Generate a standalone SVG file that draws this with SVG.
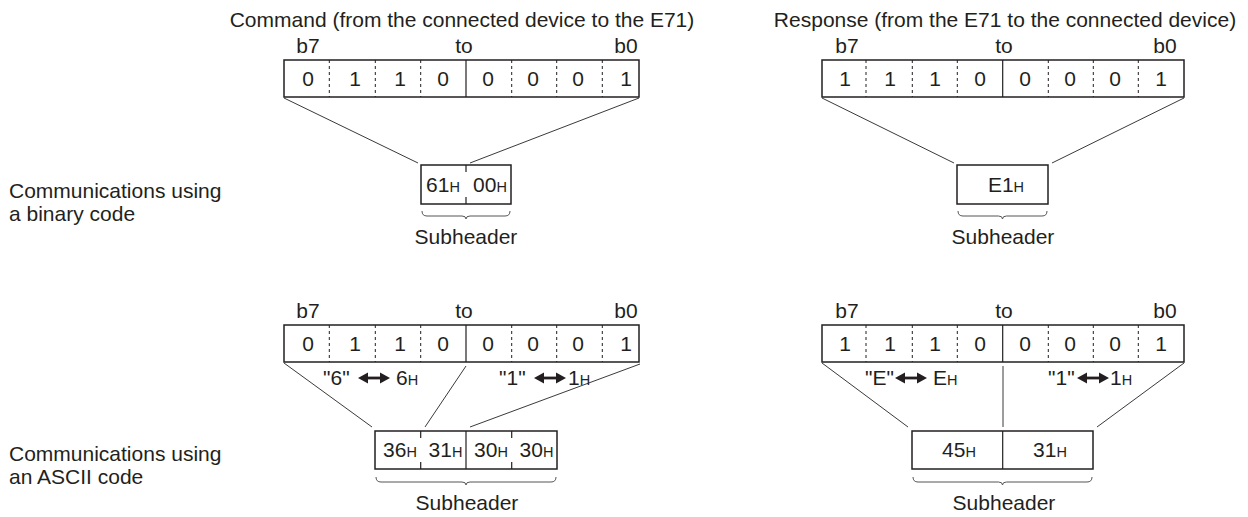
<svg xmlns="http://www.w3.org/2000/svg" width="1248" height="517" viewBox="0 0 1248 517">
<style>
text{font-family:"Liberation Sans",Arial,sans-serif;font-size:21px;fill:#231f20}
.m{text-anchor:middle}
.h{font-size:14.5px}
.box{fill:#fff;stroke:#231f20;stroke-width:1.5}
.dash{stroke:#231f20;stroke-width:1;stroke-dasharray:3,3}
.solid{stroke:#231f20;stroke-width:1.2}
.con{stroke:#3a3a3a;stroke-width:1;fill:none}
.br{stroke:#555;stroke-width:1;fill:none}
</style>
<defs>
<g id="dbl"><path d="M0,0 L10,-5.5 L10,5.5 Z M32,0 L22,-5.5 L22,5.5 Z" fill="#231f20"/><path d="M9,0 H23" stroke="#231f20" stroke-width="2.8"/></g>
</defs>

<g id="titles">
<text class="m" x="462" y="27">Command (from the connected device to the E71)</text>
<text class="m" x="1005" y="27">Response (from the E71 to the connected device)</text>
<text x="9" y="197.5">Communications using</text>
<text x="9" y="221">a binary code</text>
<text x="9" y="460.5">Communications using</text>
<text x="9" y="484">an ASCII code</text>
</g>

<g id="connectors">
<line class="con" x1="284" y1="98" x2="418" y2="163"/>
<line class="con" x1="639" y1="98" x2="470" y2="163"/>
<line class="con" x1="822" y1="98" x2="954" y2="163"/>
<line class="con" x1="1184" y1="98" x2="1052" y2="163"/>
<line class="con" x1="284" y1="363" x2="372" y2="427"/>
<line class="con" x1="466" y1="366" x2="425" y2="427"/>
<line class="con" x1="640" y1="364" x2="470" y2="427"/>
<line class="con" x1="822" y1="363" x2="908" y2="427"/>
<line class="con" x1="1003" y1="366" x2="1003" y2="427"/>
<line class="con" x1="1184" y1="363" x2="1097" y2="427"/>
</g>

<g id="reg-cmd-bin">
<text class="m" x="308" y="53">b7</text><text class="m" x="464" y="53">to</text><text class="m" x="626" y="53">b0</text>
<rect class="box" x="284" y="60" width="355" height="37"/>
<path class="dash" d="M329.3,60V97M375.3,60V97M420.7,60V97M511.7,60V97M556.7,60V97M602.3,60V97"/>
<path class="solid" d="M466,60V97"/>
<text class="m" y="86"><tspan x="308">0</tspan><tspan x="355">1</tspan><tspan x="400">1</tspan><tspan x="443">0</tspan><tspan x="488">0</tspan><tspan x="533">0</tspan><tspan x="578">0</tspan><tspan x="626">1</tspan></text>
</g>

<g id="reg-res-bin">
<text class="m" x="847" y="53">b7</text><text class="m" x="1004" y="53">to</text><text class="m" x="1165" y="53">b0</text>
<rect class="box" x="822" y="60" width="362" height="37"/>
<path class="dash" d="M866,60V97M912.3,60V97M957.3,60V97M1048.3,60V97M1093.3,60V97M1138.3,60V97"/>
<path class="solid" d="M1002.7,60V97"/>
<text class="m" y="86"><tspan x="845">1</tspan><tspan x="890">1</tspan><tspan x="935">1</tspan><tspan x="980">0</tspan><tspan x="1025">0</tspan><tspan x="1070">0</tspan><tspan x="1115">0</tspan><tspan x="1161">1</tspan></text>
</g>

<g id="sub-cmd-bin">
<rect class="box" x="421" y="165" width="90" height="39"/>
<path class="solid" d="M466,165V172M466,197V204"/>
<text class="m" x="443" y="192">61<tspan class="h">H</tspan></text>
<text class="m" x="490" y="192">00<tspan class="h">H</tspan></text>
<path class="br" d="M422,211 Q422,216 427,216 L462,216 Q466,216 466,219 Q466,216 470,216 L505,216 Q510,216 510,211"/>
<text class="m" x="466" y="244">Subheader</text>
</g>

<g id="sub-res-bin">
<rect class="box" x="957" y="165" width="91" height="39"/>
<text class="m" x="1006" y="192">E1<tspan class="h">H</tspan></text>
<path class="br" d="M958,211 Q958,216 963,216 L998.5,216 Q1002.5,216 1002.5,219 Q1002.5,216 1006.5,216 L1042,216 Q1047,216 1047,211"/>
<text class="m" x="1003" y="244">Subheader</text>
</g>

<g id="reg-cmd-ascii">
<text class="m" x="308" y="318">b7</text><text class="m" x="464" y="318">to</text><text class="m" x="626" y="318">b0</text>
<rect class="box" x="284" y="325" width="355" height="37"/>
<path class="dash" d="M329.3,325V362M375.3,325V362M420.7,325V362M511.7,325V362M556.7,325V362M602.3,325V362"/>
<path class="solid" d="M466,325V362"/>
<text class="m" y="351"><tspan x="308">0</tspan><tspan x="355">1</tspan><tspan x="400">1</tspan><tspan x="443">0</tspan><tspan x="488">0</tspan><tspan x="533">0</tspan><tspan x="578">0</tspan><tspan x="626">1</tspan></text>
</g>

<g id="map-cmd">
<text x="323" y="385">"6"</text>
<use href="#dbl" x="358" y="378"/>
<text x="396" y="385">6<tspan class="h">H</tspan></text>
<text x="499" y="385">"1"</text>
<use href="#dbl" x="534" y="378"/>
<text x="568" y="385">1<tspan class="h">H</tspan></text>
</g>

<g id="reg-res-ascii">
<text class="m" x="847" y="318">b7</text><text class="m" x="1004" y="318">to</text><text class="m" x="1165" y="318">b0</text>
<rect class="box" x="822" y="325" width="362" height="37"/>
<path class="dash" d="M866,325V362M912.3,325V362M957.3,325V362M1048.3,325V362M1093.3,325V362M1138.3,325V362"/>
<path class="solid" d="M1002.7,325V362"/>
<text class="m" y="351"><tspan x="845">1</tspan><tspan x="890">1</tspan><tspan x="935">1</tspan><tspan x="980">0</tspan><tspan x="1025">0</tspan><tspan x="1070">0</tspan><tspan x="1115">0</tspan><tspan x="1161">1</tspan></text>
</g>

<g id="map-res">
<text x="865" y="385">"E"</text>
<use href="#dbl" x="895" y="378"/>
<text x="933" y="385">E<tspan class="h">H</tspan></text>
<text x="1048" y="385">"1"</text>
<use href="#dbl" x="1077" y="378"/>
<text x="1110" y="385">1<tspan class="h">H</tspan></text>
</g>

<g id="sub-cmd-ascii">
<rect class="box" x="375" y="431" width="182" height="38"/>
<path class="solid" d="M420.7,431V438M420.7,462V469M511.7,431V438M511.7,462V469M466,431V469"/>
<text class="m" x="400" y="457">36<tspan class="h">H</tspan></text>
<text class="m" x="445.5" y="457">31<tspan class="h">H</tspan></text>
<text class="m" x="491" y="457">30<tspan class="h">H</tspan></text>
<text class="m" x="536.5" y="457">30<tspan class="h">H</tspan></text>
<path class="br" d="M376,477 Q376,482 381,482 L462,482 Q466,482 466,485 Q466,482 470,482 L551,482 Q556,482 556,477"/>
<text class="m" x="467" y="510">Subheader</text>
</g>

<g id="sub-res-ascii">
<rect class="box" x="912" y="431" width="181" height="38"/>
<path class="solid" d="M1002.7,431V469"/>
<text class="m" x="959" y="457">45<tspan class="h">H</tspan></text>
<text class="m" x="1050" y="457">31<tspan class="h">H</tspan></text>
<path class="br" d="M913,477 Q913,482 918,482 L998.5,482 Q1002.5,482 1002.5,485 Q1002.5,482 1006.5,482 L1087,482 Q1092,482 1092,477"/>
<text class="m" x="1004" y="510">Subheader</text>
</g>
</svg>
